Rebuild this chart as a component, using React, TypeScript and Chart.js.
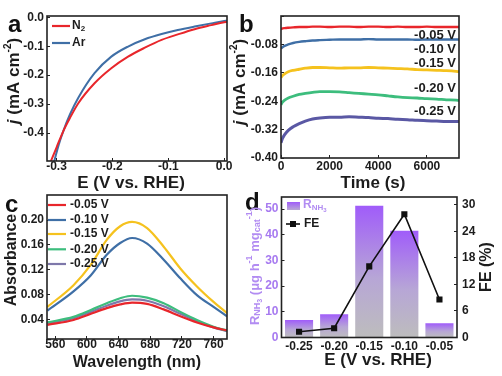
import React, { useEffect, useRef } from "react";
import { Chart, registerables } from "chart.js";

Chart.register(...registerables);

const FONT = '"Liberation Sans", Arial, Helvetica, sans-serif';
const INK = "#1c1c1c";

// ---------------- Panel a : LSV curves ----------------
const lsvPotentialN2 = [-0.31, -0.3, -0.288, -0.276, -0.261, -0.232, -0.202, -0.172, -0.142, -0.112, -0.083, -0.053, -0.023, 0.0, 0.005];
const lsvCurrentN2 = [-0.497, -0.45, -0.394, -0.348, -0.297, -0.228, -0.176, -0.136, -0.105, -0.078, -0.059, -0.041, -0.027, -0.017, -0.016];
const lsvPotentialAr = [-0.304, -0.296, -0.288, -0.276, -0.261, -0.232, -0.202, -0.172, -0.142, -0.112, -0.083, -0.053, -0.023, 0.0, 0.005];
const lsvCurrentAr = [-0.497, -0.44, -0.394, -0.336, -0.278, -0.193, -0.136, -0.101, -0.076, -0.058, -0.044, -0.032, -0.021, -0.013, -0.012];
const aXTicks = [-0.3, -0.2, -0.1, 0.0];
const aYTicks = [0.0, -0.1, -0.2, -0.3, -0.4];

// ---------------- Panel b : i-t curves ----------------
const itTime = [0, 60, 150, 300, 500, 750, 1000, 1300, 1600, 2000, 2400, 2800, 3200, 3600, 4000, 4400, 4800, 5200, 5600, 6000, 6400, 6800, 7200, 7320];
const itJ005 = [-0.037, -0.035, -0.034, -0.033, -0.032, -0.031, -0.031, -0.03, -0.03, -0.031, -0.03, -0.03, -0.031, -0.03, -0.03, -0.031, -0.03, -0.031, -0.031, -0.03, -0.031, -0.031, -0.031, -0.031];
const itJ010 = [-0.092, -0.088, -0.084, -0.08, -0.076, -0.073, -0.071, -0.069, -0.068, -0.067, -0.066, -0.066, -0.066, -0.065, -0.066, -0.066, -0.066, -0.066, -0.067, -0.066, -0.066, -0.066, -0.066, -0.066];
const itJ015 = [-0.173, -0.168, -0.163, -0.157, -0.153, -0.15, -0.147, -0.145, -0.145, -0.146, -0.147, -0.146, -0.146, -0.145, -0.146, -0.147, -0.148, -0.149, -0.151, -0.152, -0.153, -0.154, -0.156, -0.157];
const itJ020 = [-0.25, -0.243, -0.237, -0.231, -0.226, -0.221, -0.218, -0.215, -0.213, -0.213, -0.214, -0.216, -0.218, -0.22, -0.222, -0.225, -0.228, -0.23, -0.231, -0.233, -0.234, -0.236, -0.237, -0.238];
const itJ025 = [-0.357, -0.345, -0.334, -0.322, -0.312, -0.303, -0.296, -0.29, -0.287, -0.285, -0.285, -0.284, -0.285, -0.286, -0.288, -0.289, -0.291, -0.292, -0.294, -0.295, -0.296, -0.297, -0.297, -0.297];
const bXTicks = [0, 2000, 4000, 6000];
const bYTicks = [-0.4, -0.32, -0.24, -0.16, -0.08, 0.0];
const potentialLabels = ["-0.05 V", "-0.10 V", "-0.15 V", "-0.20 V", "-0.25 V"];

// ---------------- Panel c : UV-vis absorbance ----------------
const uvWavelength = [550, 583, 605, 625, 642, 657, 676, 697, 718, 739, 760, 777];
const uvAbs005 = [0.031, 0.039, 0.049, 0.058, 0.064, 0.067, 0.065, 0.056, 0.045, 0.035, 0.027, 0.022];
const uvAbs010 = [0.054, 0.085, 0.111, 0.144, 0.163, 0.171, 0.162, 0.136, 0.106, 0.079, 0.06, 0.045];
const uvAbs015 = [0.06, 0.095, 0.128, 0.168, 0.19, 0.197, 0.187, 0.157, 0.122, 0.093, 0.068, 0.05];
const uvAbs020 = [0.035, 0.044, 0.055, 0.066, 0.074, 0.078, 0.075, 0.066, 0.052, 0.039, 0.028, 0.022];
const uvAbs025 = [0.034, 0.042, 0.052, 0.062, 0.069, 0.072, 0.07, 0.061, 0.049, 0.037, 0.027, 0.021];
const cXTicks = [560, 600, 640, 680, 720, 760];
const cYTicks = [0.04, 0.08, 0.12, 0.16, 0.2];

// ---------------- Panel d : yield rate & FE ----------------
const dPotentials = ["-0.25", "-0.20", "-0.15", "-0.10", "-0.05"];
const nh3YieldRate = [6.8, 9.1, 51.3, 41.6, 5.5];
const faradaicEfficiency = [1.3, 2.1, 16.1, 27.9, 8.6];
const dLeftTicks = [0, 10, 20, 30, 40, 50];
const dRightTicks = [0, 6, 12, 18, 24, 30];

const RED = "#e8262b";
const BLUE = "#3f6fa6";
const YELLOW = "#f5c21e";
const GREEN = "#3dbd7d";
const SLATE = "#5a58a4";
const GRAYPURPLE = "#7e78aa";
const PURPLE = "#a77af0";

type Part = { t: string; size: number; dy?: number; italic?: boolean; weight?: string; color?: string };

function drawRich(ctx: CanvasRenderingContext2D, parts: Part[], cx: number, cy: number, rotation: number, color: string, align = "center") {
  ctx.save();
  ctx.translate(cx, cy);
  ctx.rotate(rotation);
  const fontOf = (p: Part) => `${p.italic ? "italic " : ""}${p.weight || "bold"} ${p.size}px ${FONT}`;
  let total = 0;
  const widths = parts.map((p) => {
    ctx.font = fontOf(p);
    const w = ctx.measureText(p.t).width;
    total += w;
    return w;
  });
  let x = align === "center" ? -total / 2 : align === "right" ? -total : 0;
  ctx.textBaseline = "middle";
  ctx.textAlign = "left";
  parts.forEach((p, i) => {
    ctx.font = fontOf(p);
    ctx.fillStyle = p.color || color;
    ctx.fillText(p.t, x, p.dy || 0);
    x += widths[i];
  });
  ctx.restore();
}

function frame(chart: any) {
  const { ctx, chartArea: a } = chart;
  ctx.save();
  ctx.strokeStyle = "#222";
  ctx.lineWidth = 1.6;
  ctx.strokeRect(a.left, a.top, a.right - a.left, a.bottom - a.top);
  ctx.restore();
}

function letter(ctx: CanvasRenderingContext2D, s: string, x: number, y: number) {
  ctx.save();
  ctx.font = `bold 24px ${FONT}`;
  ctx.fillStyle = "#111";
  ctx.textBaseline = "alphabetic";
  ctx.textAlign = "left";
  ctx.fillText(s, x, y);
  ctx.restore();
}

function legendLine(ctx: CanvasRenderingContext2D, x1: number, x2: number, y: number, color: string, w = 2.2) {
  ctx.save();
  ctx.strokeStyle = color;
  ctx.lineWidth = w;
  ctx.beginPath();
  ctx.moveTo(x1, y);
  ctx.lineTo(x2, y);
  ctx.stroke();
  ctx.restore();
}

const jTitle: Part[] = [
  { t: "j", size: 17, italic: true },
  { t: " (mA cm", size: 17 },
  { t: "-2", size: 10, dy: -6 },
  { t: ")", size: 17 },
];

function axis(o: any) {
  const vertical = o.position === "left" || o.position === "right";
  const base: any = {
    position: o.position,
    afterFit: (s: any) => {
      if (vertical) s.width = o.size;
      else s.height = o.size;
    },
    grid: { drawOnChartArea: false, drawTicks: true, tickLength: -3, color: "#222", lineWidth: 1, offset: false },
    border: { display: false },
    ticks: {
      autoSkip: false,
      maxRotation: 0,
      minRotation: 0,
      padding: o.pad,
      color: o.color || INK,
      font: { family: FONT, size: 12, weight: "bold", lineHeight: 1 },
    },
  };
  if (o.type === "category") {
    base.type = "category";
    base.offset = true;
  } else {
    base.type = "linear";
    base.min = o.min;
    base.max = o.max;
    base.afterBuildTicks = (s: any) => {
      s.ticks = o.ticks.map((v: number) => ({ value: v }));
    };
    base.ticks.callback = o.fmt;
  }
  return base;
}

const common = {
  responsive: false,
  animation: false,
  devicePixelRatio: 1,
  events: [],
  plugins: { legend: { display: false }, tooltip: { enabled: false } },
};

function pts(xs: number[], ys: number[]) {
  return xs.map((x, i) => ({ x, y: ys[i] }));
}

function lineDs(label: string, xs: number[], ys: number[], color: string, width: number) {
  return {
    label,
    data: pts(xs, ys),
    borderColor: color,
    backgroundColor: color,
    borderWidth: width,
    pointRadius: 0,
    cubicInterpolationMode: "monotone",
    fill: false,
  };
}

function configA(): any {
  return {
    type: "line",
    data: {
      datasets: [
        lineDs("N2", lsvPotentialN2, lsvCurrentN2, RED, 2),
        lineDs("Ar", lsvPotentialAr, lsvCurrentAr, BLUE, 2),
      ],
    },
    options: {
      ...common,
      layout: { padding: { left: 17, right: 275, top: 16, bottom: 195 } },
      scales: {
        x: axis({ position: "bottom", size: 20, pad: 3, min: -0.317, max: 0.005, ticks: aXTicks, fmt: (v: number) => Number(v).toFixed(1) }),
        y: axis({ position: "left", size: 30, pad: 6, min: -0.4966, max: 0.0045, ticks: aYTicks, fmt: (v: number) => Number(v).toFixed(1) }),
      },
    },
    plugins: [
      {
        id: "decorA",
        afterDraw(chart: any) {
          const ctx = chart.ctx;
          frame(chart);
          letter(ctx, "a", 8, 32);
          drawRich(ctx, jTitle, 14, 81, -Math.PI / 2, INK);
          drawRich(ctx, [{ t: "E (V vs. RHE)", size: 17 }], 131, 183, 0, INK);
          legendLine(ctx, 52, 70, 26, RED);
          drawRich(ctx, [{ t: "N", size: 12 }, { t: "2", size: 8, dy: 3 }], 72, 26, 0, INK, "left");
          legendLine(ctx, 52, 70, 43, BLUE);
          drawRich(ctx, [{ t: "Ar", size: 12 }], 72, 43, 0, INK, "left");
        },
      },
    ],
  };
}

function configB(): any {
  return {
    type: "line",
    data: {
      datasets: [
        lineDs(potentialLabels[0], itTime, itJ005, RED, 2.4),
        lineDs(potentialLabels[1], itTime, itJ010, BLUE, 2.4),
        lineDs(potentialLabels[2], itTime, itJ015, YELLOW, 2.8),
        lineDs(potentialLabels[3], itTime, itJ020, GREEN, 2.8),
        lineDs(potentialLabels[4], itTime, itJ025, SLATE, 3),
      ],
    },
    options: {
      ...common,
      layout: { padding: { left: 251, right: 43, top: 16, bottom: 198 } },
      scales: {
        x: axis({ position: "bottom", size: 20, pad: 6, min: 0, max: 7320, ticks: bXTicks, fmt: (v: number) => String(Math.round(v)) }),
        y: axis({ position: "left", size: 30, pad: 6, min: -0.4, max: 0, ticks: bYTicks, fmt: (v: number) => (v > -0.01 ? "" : Number(v).toFixed(2)) }),
      },
    },
    plugins: [
      {
        id: "decorB",
        afterDraw(chart: any) {
          const ctx = chart.ctx;
          frame(chart);
          letter(ctx, "b", 239, 32);
          drawRich(ctx, jTitle, 240, 82, -Math.PI / 2, INK);
          drawRich(ctx, [{ t: "Time (s)", size: 17 }], 373, 183, 0, INK);
          const ys = [35, 49.3, 63.3, 88.3, 111.7];
          potentialLabels.forEach((s, i) => drawRich(ctx, [{ t: s, size: 13 }], 456, ys[i], 0, INK, "right"));
        },
      },
    ],
  };
}

function configC(): any {
  return {
    type: "line",
    data: {
      datasets: [
        lineDs(potentialLabels[0], uvWavelength, uvAbs005, RED, 2.2),
        lineDs(potentialLabels[1], uvWavelength, uvAbs010, BLUE, 2.2),
        lineDs(potentialLabels[2], uvWavelength, uvAbs015, YELLOW, 2.2),
        lineDs(potentialLabels[3], uvWavelength, uvAbs020, GREEN, 2.2),
        lineDs(potentialLabels[4], uvWavelength, uvAbs025, GRAYPURPLE, 2.2),
      ],
    },
    options: {
      ...common,
      layout: { padding: { left: 17, right: 275, top: 195, bottom: 17 } },
      scales: {
        x: axis({ position: "bottom", size: 20, pad: 3, min: 549.5, max: 777, ticks: cXTicks, fmt: (v: number) => String(Math.round(v)) }),
        y: axis({ position: "left", size: 30, pad: 6, min: 0.0083, max: 0.2403, ticks: cYTicks, fmt: (v: number) => Number(v).toFixed(2) }),
      },
    },
    plugins: [
      {
        id: "decorC",
        afterDraw(chart: any) {
          const ctx = chart.ctx;
          frame(chart);
          letter(ctx, "c", 5, 212);
          drawRich(ctx, [{ t: "Absorbance", size: 16 }], 12, 260, -Math.PI / 2, INK);
          drawRich(ctx, [{ t: "Wavelength (nm)", size: 16 }], 137, 363, 0, INK);
          const colors = [RED, BLUE, YELLOW, GREEN, GRAYPURPLE];
          const ys = [205, 220, 234, 249.3, 264];
          potentialLabels.forEach((s, i) => {
            legendLine(ctx, 48, 66, ys[i], colors[i]);
            drawRich(ctx, [{ t: s, size: 12 }], 70, ys[i], 0, INK, "left");
          });
        },
      },
    ],
  };
}

function barGradient(c: any) {
  const chart = c.chart;
  if (c.type !== "data" || !chart.chartArea) return PURPLE;
  const ys = chart.scales.y;
  const top = ys.getPixelForValue(c.raw);
  const bottom = ys.getPixelForValue(0);
  const g = chart.ctx.createLinearGradient(0, top, 0, bottom);
  g.addColorStop(0, "#a05cfa");
  g.addColorStop(0.55, "#b7a6d6");
  g.addColorStop(1, "#bdbdbd");
  return g;
}

function configD(): any {
  return {
    type: "bar",
    data: {
      labels: dPotentials,
      datasets: [
        {
          type: "line",
          label: "FE",
          data: faradaicEfficiency,
          yAxisID: "y1",
          borderColor: "#111",
          backgroundColor: "#111",
          borderWidth: 1.6,
          pointStyle: "rect",
          pointRadius: 3.2,
          pointBackgroundColor: "#111",
          pointBorderColor: "#111",
          tension: 0,
          order: 1,
        },
        {
          type: "bar",
          label: "R_NH3",
          data: nh3YieldRate,
          yAxisID: "y",
          backgroundColor: barGradient,
          borderWidth: 0,
          barPercentage: 1,
          categoryPercentage: 0.8,
          order: 2,
        },
      ],
    },
    options: {
      ...common,
      layout: { padding: { left: 250.5, right: 0, top: 197, bottom: 18.5 } },
      scales: {
        x: axis({ type: "category", position: "bottom", size: 20, pad: 6 }),
        y: axis({ position: "left", size: 31, pad: 6, min: 0, max: 54.7, ticks: dLeftTicks, fmt: (v: number) => String(v), color: PURPLE }),
        y1: axis({ position: "right", size: 45, pad: 8, min: 0, max: 31.8, ticks: dRightTicks, fmt: (v: number) => String(v) }),
      },
    },
    plugins: [
      {
        id: "decorD",
        afterDraw(chart: any) {
          const ctx = chart.ctx;
          frame(chart);
          letter(ctx, "d", 245, 210);
          drawRich(
            ctx,
            [
              { t: "R", size: 13 },
              { t: "NH", size: 9, dy: 3 },
              { t: "3", size: 7, dy: 5 },
              { t: " (μg h", size: 13 },
              { t: "-1", size: 9, dy: -5 },
              { t: " mg", size: 13 },
              { t: "cat", size: 9, dy: 3 },
              { t: "-1", size: 9, dy: -5 },
              { t: ")", size: 13 },
            ],
            255,
            266,
            -Math.PI / 2,
            "#b28cf2"
          );
          drawRich(ctx, [{ t: "FE (%)", size: 16 }], 487, 267, -Math.PI / 2, INK);
          drawRich(ctx, [{ t: "E (V vs. RHE)", size: 17 }], 378, 360, 0, INK);
          // legend
          ctx.save();
          const g = ctx.createLinearGradient(0, 202, 0, 210);
          g.addColorStop(0, "#a05cfa");
          g.addColorStop(1, "#b9a9d4");
          ctx.fillStyle = g;
          ctx.fillRect(287, 202, 13, 8);
          ctx.restore();
          drawRich(ctx, [{ t: "R", size: 12 }, { t: "NH", size: 8, dy: 3 }, { t: "3", size: 6, dy: 5 }], 303, 205, 0, "#b28cf2", "left");
          legendLine(ctx, 286, 300, 224, "#111", 1.6);
          ctx.save();
          ctx.fillStyle = "#111";
          ctx.fillRect(290, 221, 6, 6);
          ctx.restore();
          drawRich(ctx, [{ t: "FE", size: 12 }], 304, 224, 0, INK, "left");
        },
      },
    ],
  };
}

export default function App() {
  const r1 = useRef<HTMLCanvasElement>(null);
  const r2 = useRef<HTMLCanvasElement>(null);
  const r3 = useRef<HTMLCanvasElement>(null);
  const r4 = useRef<HTMLCanvasElement>(null);
  const refs = [r1, r2, r3, r4];

  useEffect(() => {
    const cfgs = [configA(), configB(), configC(), configD()];
    const charts = cfgs.map((cfg, i) => new Chart(refs[i].current as HTMLCanvasElement, cfg));
    return () => charts.forEach((c) => c.destroy());
  }, []);

  return (
    <div style={{ position: "absolute", left: 0, top: 0, width: 502, height: 376, background: "#fff", overflow: "hidden" }}>
      {refs.map((r, i) => (
        <canvas key={i} ref={r} width={502} height={376} style={{ position: "absolute", left: 0, top: 0, width: 502, height: 376 }} />
      ))}
    </div>
  );
}
